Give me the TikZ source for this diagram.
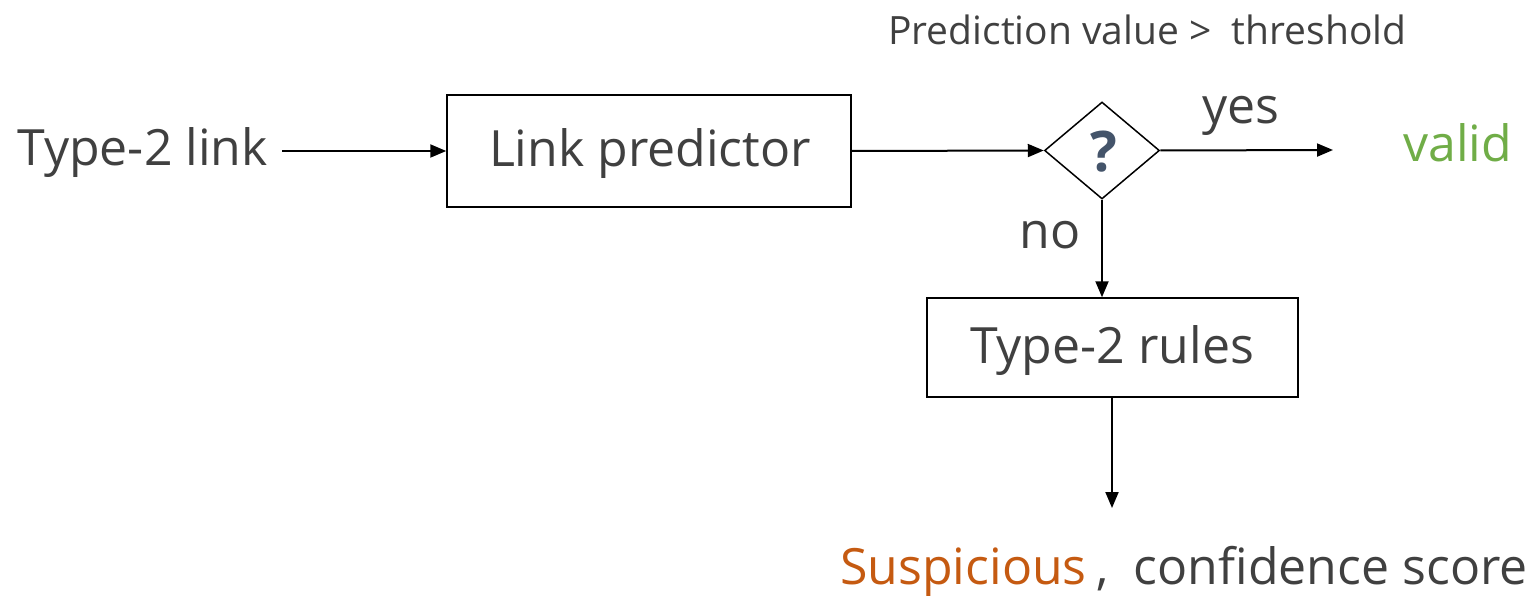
\documentclass[tikz,border=0pt]{standalone}
\usepackage{fontspec}
\setmainfont{Open Sans}
\usetikzlibrary{arrows.meta,shapes.geometric}
\definecolor{txt}{HTML}{404040}
\definecolor{okgreen}{HTML}{70AD47}
\definecolor{warnorange}{HTML}{C55A11}
\definecolor{qmark}{HTML}{44546A}
\tikzset{
  bigfont/.style={font=\fontsize{50}{58}\selectfont},
  procbox/.style={draw=black, line width=1.5pt, minimum width=404pt, minimum height=112pt, inner sep=0pt, text=txt, bigfont},
  bigtext/.style={text=txt, inner sep=0pt, bigfont},
  smalltext/.style={text=txt, inner sep=0pt, font=\fontsize{39}{46}\selectfont},
  flow/.style={draw=black, line width=2pt, -{Triangle[length=16pt,width=13pt]}},
  decision/.style={draw=black, line width=1.5pt, diamond, minimum width=115pt, minimum height=97pt, inner sep=0pt, aspect=1.2}
}
\begin{document}
\begin{tikzpicture}[x=1pt,y=-1pt]
  \useasboundingbox (0,0) rectangle (1536,596);

  \node[bigtext, anchor=east] (src) at (268,153) {Type-2 link};
  \node[procbox] (pred) at (649,151) {};
  \node[bigtext] (predlbl) at (650,154) {Link predictor};
  \node[decision] (dec) at (1102,150.5) {};
  \node[text=qmark, inner sep=0pt, font=\fontsize{56}{60}\selectfont\bfseries] (q) at (1104,152) {?};
  \coordinate (validend) at (1333,150);
  \node[anchor=west, text=okgreen, inner sep=0pt, bigfont] (valid) at (1403,143) {valid};
  \node[bigtext] (yes) at (1241,116) {yes};
  \node[bigtext] (no) at (1050,235) {no};
  \node[smalltext, anchor=west] (cond) at (888,30) {Prediction value >\ \ threshold};
  \node[procbox, minimum width=371pt, minimum height=99pt] (rules) at (1112.5,347.5) {};
  \node[bigtext] (ruleslbl) at (1112,351) {Type-2 rules};
  \coordinate (outend) at (1112,508);
  \node[anchor=east, inner sep=0pt, bigfont] (out) at (1528,571)
    {\textcolor{warnorange}{Suspicious}\textcolor{txt}{\hspace{0.2em},\hspace{0.5em}confidence score}};

  \draw[flow] (282,151) -- (pred.west);
  \draw[flow] (pred.east) -- (dec.west);
  \draw[flow] (dec.east) -- (validend);
  \draw[flow] (dec.south) -- (dec.south |- rules.north);
  \draw[flow] (rules.south -| outend) -- (outend);
\end{tikzpicture}
\end{document}
